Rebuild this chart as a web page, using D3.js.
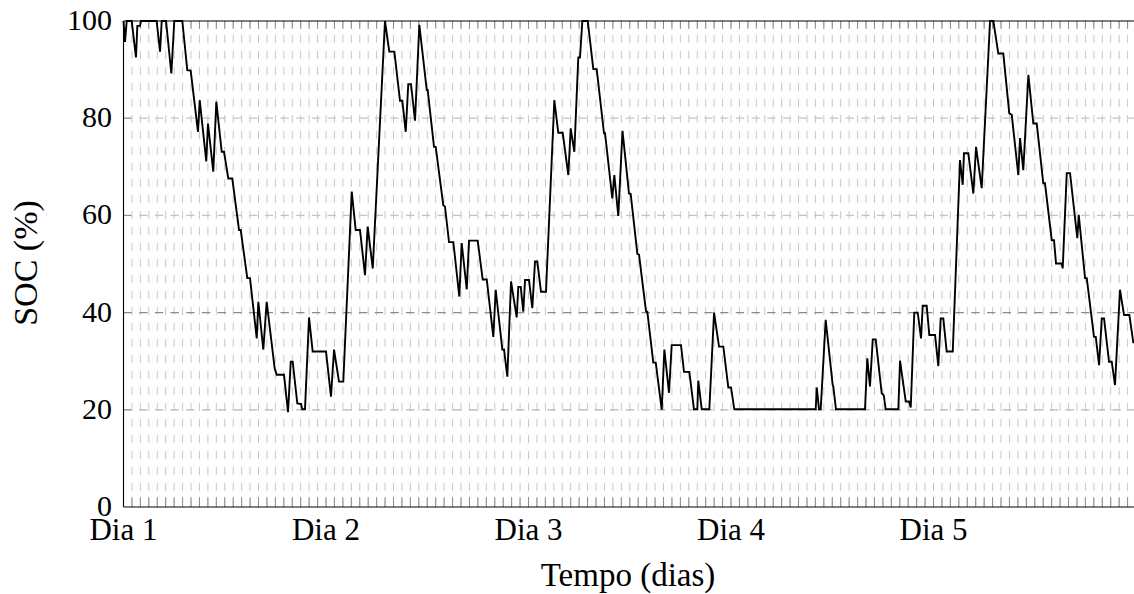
<!DOCTYPE html>
<html>
<head>
<meta charset="utf-8">
<script src="https://cdn.jsdelivr.net/npm/d3@7"></script>
<style>
  html, body { margin: 0; padding: 0; background: #fff; }
  svg { display: block; }
  text { font-family: "Liberation Serif", "DejaVu Serif", serif; fill: #000; }
</style>
</head>
<body>
<svg id="chart" width="1134" height="594"></svg>
<script>
// ---- data (time in hours, SOC in %) ----
const hours = [
  0, 0.18, 0.38, 0.97, 1.48, 1.64, 1.96, 2.07, 3.93, 4.33, 4.53, 5.04, 5.67, 6.02, 6.97,
  7.56, 7.96, 8.83, 9.03, 9.81, 10.01, 10.64, 11.00, 11.64, 11.91, 12.42, 12.89, 13.69, 13.89,
  14.67, 14.99, 15.79, 15.98, 16.57, 16.97, 17.92, 18.16, 19.02, 19.50, 19.82, 20.05, 20.60,
  21.04, 21.19, 21.51, 21.99, 22.42, 24.00, 24.59, 24.95, 25.54, 26.05, 27.05, 27.52, 28.03,
  28.62, 28.94, 29.54, 30.99, 31.50, 32.10, 32.77, 33.04, 33.45, 33.75, 34.07, 34.55, 35.06,
  35.94, 36.05, 36.80, 37.00, 37.90, 38.10, 38.58, 39.09, 39.80, 40.08, 40.68, 40.95, 41.98,
  42.57, 43.05, 43.83, 44.11, 44.90, 45.10, 45.49, 45.93, 46.60, 46.79, 47.08, 47.38, 47.59,
  48.06, 48.45, 48.77, 49.04, 49.48, 50.07, 51.06, 51.53, 52.05, 52.72, 53.00, 53.43, 53.90,
  54.10, 54.38, 55.02, 55.68, 56.08, 56.95, 57.07, 57.93, 58.17, 58.64, 59.14, 59.91, 60.11,
  60.90, 61.10, 61.93, 62.08, 62.79, 63.08, 63.79, 64.10, 64.65, 64.97, 66.07, 66.43, 67.06,
  67.61, 68.01, 68.12, 68.53, 69.43, 69.99, 70.58, 71.09, 71.68, 72.00, 72.39, 82.04, 82.16,
  82.43, 82.63, 83.22, 84.05, 84.12, 84.44, 87.88, 88.15, 88.47, 88.80, 89.15, 89.86, 90.10,
  90.33, 91.83, 92.03, 92.71, 93.10, 93.30, 93.72, 94.13, 94.52, 94.72, 95.19, 95.50, 96.18,
  96.57, 96.85, 97.16, 97.56, 98.28, 99.14, 99.46, 99.61, 100.12, 100.72, 101.04, 101.71,
  102.70, 103.09, 103.68, 104.27, 104.98, 105.27, 106.05, 106.25, 106.64, 107.24, 107.83,
  108.23, 109.01, 109.21, 110.01, 110.28, 110.52, 111.19, 111.31, 111.79, 112.18, 113.04,
  113.21, 113.96, 114.16, 115.02, 115.23, 115.62, 115.94, 116.21, 116.80, 117.12, 117.51,
  118.10, 118.58, 119.21, 119.69
];
const soc = [
  100, 95.7, 100, 100, 92.5, 99, 99, 100, 100, 93.7, 100, 100, 89.2, 100, 100,
  89.9, 89.8, 77.2, 83.7, 71.1, 78.9, 69.0, 83.4, 73.1, 73.1, 67.6, 67.6, 57.0, 57.0,
  47.1, 47.1, 34.7, 42.2, 32.4, 42.2, 28.5, 27.2, 27.2, 19.5, 29.9, 29.9, 21.3,
  21.2, 20.1, 20.1, 39.0, 32.0, 32.0, 22.7, 32.4, 25.8, 25.8, 64.9, 57.0, 57.0,
  47.7, 57.7, 49.1, 100, 93.7, 93.7, 83.6, 83.6, 77.2, 87.0, 87.0, 79.5, 99.2,
  85.8, 85.8, 74.1, 74.1, 62.1, 61.8, 54.5, 54.5, 43.3, 54.3, 44.8, 54.8, 54.8,
  46.8, 46.8, 35.0, 44.7, 32.4, 32.4, 26.8, 46.4, 39.0, 45.3, 45.3, 40.2, 46.7,
  46.7, 40.9, 50.5, 50.5, 44.3, 44.3, 83.7, 77.0, 77.0, 68.3, 77.9, 73.1, 92.5,
  92.5, 100, 100, 90.1, 90.1, 76.9, 76.9, 63.5, 68.3, 59.9, 77.4, 64.5, 64.4,
  52.1, 51.9, 40.2, 40.2, 29.7, 29.7, 20.0, 32.4, 23.5, 33.3, 33.3, 27.8, 27.8,
  20.1, 20.1, 26.0, 20.1, 20.1, 40.0, 33.0, 33.0, 24.6, 24.6, 20.1, 20.1, 24.6,
  20.1, 20.1, 38.5, 25.1, 24.8, 20.1, 20.1, 30.6, 24.8, 34.5, 34.5, 23.4, 23.0,
  20.1, 20.1, 30.1, 21.7, 21.7, 20.5, 40.0, 40.0, 34.7, 41.4, 41.4, 35.4, 35.4,
  29.0, 38.8, 38.8, 32.0, 32.0, 71.4, 66.3, 72.8, 72.8, 64.5, 74.1, 65.6,
  100, 100, 93.3, 93.3, 81.0, 80.7, 68.3, 75.9, 69.3, 88.9, 78.9,
  78.9, 66.6, 66.6, 54.9, 54.9, 50.1, 50.1, 49.1, 68.7, 68.7, 55.3,
  60.1, 47.1, 47.1, 35.0, 35.0, 29.2, 38.8, 38.8, 29.9, 29.9, 25.1,
  44.7, 39.5, 39.5, 33.7
];
const dayTicks = [0, 24, 48, 72, 96];
const dayLabels = ["Dia 1", "Dia 2", "Dia 3", "Dia 4", "Dia 5"];
const yTicks = [0, 20, 40, 60, 80, 100];
const xMax = 119.76;
const xLabel = "Tempo (dias)";
const yLabel = "SOC (%)";

// ---- layout ----
const svg = d3.select("#chart");
const pL = 123.5, pR = 1134, pT = 21, pB = 507;
const x = d3.scaleLinear().domain([0, xMax]).range([pL, pR]);
const y = d3.scaleLinear().domain([0, 100]).range([pB, pT]);

const hourTicks = d3.range(1, Math.floor(xMax) + 1);

// vertical hourly grid (dashed light gray)
svg.append("g").selectAll("line").data(hourTicks).join("line")
  .attr("x1", d => x(d)).attr("x2", d => x(d))
  .attr("y1", pB).attr("y2", pT)
  .attr("stroke", "#c8c8c8").attr("stroke-width", 1)
  .attr("stroke-dasharray", "8,8");

// horizontal grid
const hGrid = [
  {v: 60, c: "#c4c4c4"}, {v: 80, c: "#c4c4c4"},
  {v: 20, c: "#b5b5b5"}, {v: 40, c: "#8a8a8a"}
];
svg.append("g").selectAll("line").data(hGrid).join("line")
  .attr("x1", pL).attr("x2", pR)
  .attr("y1", d => y(d.v)).attr("y2", d => y(d.v))
  .attr("stroke", d => d.c).attr("stroke-width", d => d.v === 40 ? 1.3 : 1.2)
  .attr("stroke-dasharray", "8.3,7.4");

// bottom and top hour ticks (inward)
svg.append("g").selectAll("line").data(hourTicks).join("line")
  .attr("x1", d => x(d)).attr("x2", d => x(d))
  .attr("y1", pB).attr("y2", pB - 10)
  .attr("stroke", "#8c8c8c").attr("stroke-width", 1);
svg.append("g").selectAll("line").data(hourTicks).join("line")
  .attr("x1", d => x(d)).attr("x2", d => x(d))
  .attr("y1", pT).attr("y2", pT + 8)
  .attr("stroke", "#8c8c8c").attr("stroke-width", 1);

// y ticks (inward)
svg.append("g").selectAll("line").data(yTicks.filter(d => d > 0 && d < 100)).join("line")
  .attr("x1", pL).attr("x2", pL + 8)
  .attr("y1", d => y(d)).attr("y2", d => y(d))
  .attr("stroke", "#8c8c8c").attr("stroke-width", 1);

// frame: left, top, bottom
svg.append("line").attr("x1", pL).attr("x2", pL).attr("y1", pT).attr("y2", pB)
  .attr("stroke", "#000").attr("stroke-width", 1.1);
svg.append("line").attr("x1", pL).attr("x2", pR).attr("y1", pT).attr("y2", pT)
  .attr("stroke", "#000").attr("stroke-width", 1.1);
svg.append("line").attr("x1", pL).attr("x2", pR).attr("y1", pB).attr("y2", pB)
  .attr("stroke", "#000").attr("stroke-width", 1.1);

// data line
const pts = hours.map((h, i) => [h, soc[i]]);
svg.append("path").datum(pts)
  .attr("fill", "none").attr("stroke", "#000").attr("stroke-width", 1.9)
  .attr("stroke-linejoin", "miter").attr("stroke-miterlimit", 3)
  .attr("d", d3.line().x(d => x(d[0])).y(d => y(d[1])));

// y tick labels
svg.append("g").selectAll("text").data(yTicks).join("text")
  .attr("x", 112).attr("y", d => y(d))
  .attr("dy", "0.3em")
  .attr("text-anchor", "end")
  .attr("font-size", 30)
  .text(d => d);

// x tick labels
svg.append("g").selectAll("text").data(dayTicks).join("text")
  .attr("x", d => x(d)).attr("y", 540)
  .attr("text-anchor", "middle")
  .attr("font-size", 31)
  .text((d, i) => dayLabels[i]);

// axis titles
svg.append("text").attr("x", 628).attr("y", 586)
  .attr("text-anchor", "middle").attr("font-size", 33).text(xLabel);
svg.append("text")
  .attr("transform", "translate(37,263) rotate(-90)")
  .attr("text-anchor", "middle").attr("font-size", 34).text(yLabel);
</script>
</body>
</html>
